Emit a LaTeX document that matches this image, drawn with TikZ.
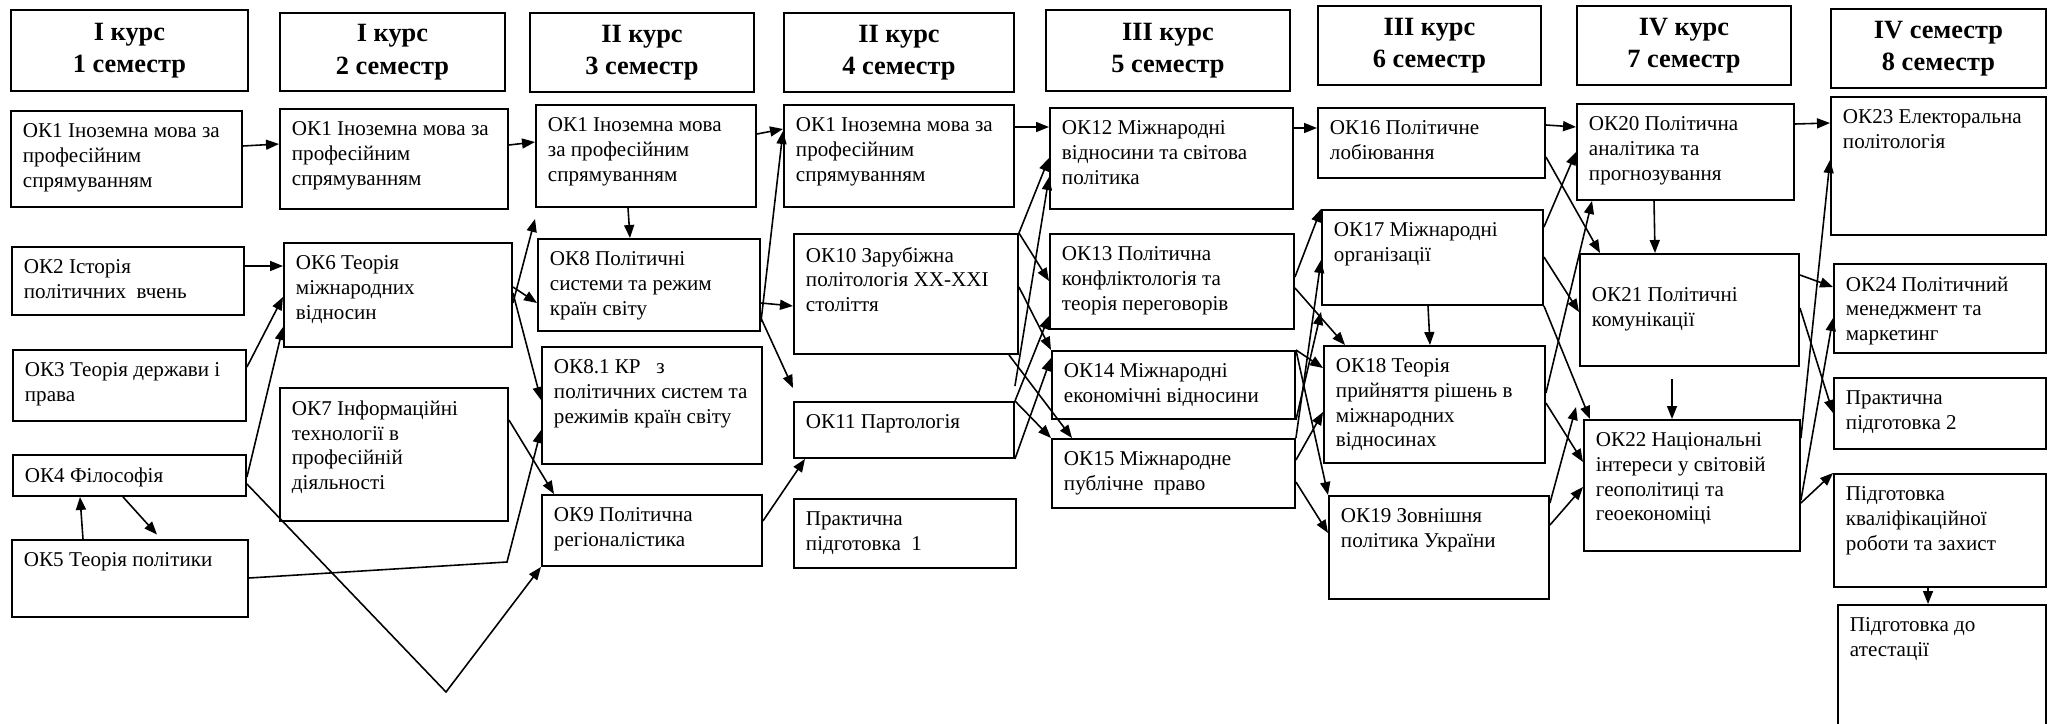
\documentclass[tikz,border=0pt]{standalone}
\usepackage{fontspec}
\setmainfont{Liberation Serif}
\usepackage{tikz}
\usetikzlibrary{arrows.meta}
\tikzstyle{arrow} = [line width=0.9pt,->,>={Triangle[length=0.26cm,width=0.2cm]}]
\newlength{\pxu}\setlength{\pxu}{0.02cm}
\newcommand{\okt}[3]{\parbox[t][\dimexpr#2\pxu-0.52cm\relax][t]{\dimexpr#1\pxu-0.48cm\relax}{\rightskip=-0.2cm plus 1fil #3}}
\newcommand{\hdt}[3]{\parbox[c][#2\pxu][c]{#1\pxu}{\centering #3}}

\begin{document}
\begin{tikzpicture}[x=0.02cm, y=-0.02cm,
  ok/.style={draw, line width=1.1pt, anchor=north west, inner xsep=0.24cm, inner ysep=0.26cm, font=\fontsize{12}{14}\selectfont},
  hd/.style={draw, line width=1.1pt, anchor=north west, inner sep=0pt, font=\fontsize{15}{18.5}\selectfont\bfseries}]
  \useasboundingbox (0,0) rectangle (2064,723);

  % Headers
  \node[hd] (h1) at (10,9) {\hdt{237}{81}{I курс\\1 семестр}};
  \node[hd] (h2) at (279,12) {\hdt{225}{78}{I курс\\2 семестр}};
  \node[hd] (h3) at (529,12) {\hdt{224}{79}{II курс\\3 семестр}};
  \node[hd] (h4) at (783,12) {\hdt{230}{79}{II курс\\4 семестр}};
  \node[hd] (h5) at (1045,9) {\hdt{244}{81}{III курс\\5 семестр}};
  \node[hd] (h6) at (1317,5) {\hdt{223}{79}{III курс\\6 семестр}};
  \node[hd] (h7) at (1576,5) {\hdt{214}{79}{IV курс\\7 семестр}};
  \node[hd] (h8) at (1830,8) {\hdt{215}{79}{IV семестр\\8 семестр}};

  % Semester 1
  \node[ok] (ok1a) at (10,110) {\okt{231}{96}{ОК1 Іноземна мова за\\професійним\\спрямуванням}};
  \node[ok] (ok2) at (11,246) {\okt{232}{68}{ОК2 Історія\\політичних~ вчень}};
  \node[ok] (ok3) at (12,349) {\okt{233}{71}{ОК3 Теорія держави і\\права}};
  \node[ok] (ok4) at (12,454) {\okt{233}{41}{ОК4 Філософія}};
  \node[ok] (ok5) at (11,539) {\okt{236}{77}{ОК5 Теорія політики}};

  % Semester 2
  \node[ok] (ok1b) at (279,108) {\okt{228}{100}{ОК1 Іноземна мова за\\професійним\\спрямуванням}};
  \node[ok] (ok6) at (283,242) {\okt{228}{104}{ОК6 Теорія\\міжнародних\\відносин}};
  \node[ok] (ok7) at (279,387) {\okt{228}{133}{ОК7 Інформаційні\\технології в\\професійній\\діяльності}};

  % Semester 3
  \node[ok] (ok1c) at (535,104) {\okt{220}{102}{ОК1 Іноземна мова\\за професійним\\спрямуванням}};
  \node[ok] (ok8) at (537,238) {\okt{222}{92}{ОК8 Політичні\\системи та режим\\країн світу}};
  \node[ok] (ok81) at (541,346) {\okt{220}{117}{ОК8.1 КР~~~з\\політичних систем та\\режимів країн світу}};
  \node[ok] (ok9) at (541,494) {\okt{220}{71}{ОК9 Політична\\регіоналістика}};

  % Semester 4
  \node[ok] (ok1d) at (783,104) {\okt{230}{102}{ОК1 Іноземна мова за\\професійним\\спрямуванням}};
  \node[ok] (ok10) at (793,233) {\okt{224}{120}{ОК10 Зарубіжна\\політологія XX-XXI\\століття}};
  \node[ok] (ok11) at (793,401) {\okt{220}{56}{ОК11 Партологія}};
  \node[ok] (pp1) at (793,498) {\okt{222}{69}{Практична\\підготовка~ 1}};

  % Semester 5
  \node[ok] (ok12) at (1049,107) {\okt{243}{101}{ОК12 Міжнародні\\відносини та світова\\політика}};
  \node[ok] (ok13) at (1049,233) {\okt{244}{95}{ОК13 Політична\\конфліктологія та\\теорія переговорів}};
  \node[ok] (ok14) at (1051,350) {\okt{243}{68}{ОК14 Міжнародні\\економічні відносини}};
  \node[ok] (ok15) at (1051,438) {\okt{243}{69}{ОК15 Міжнародне\\публічне~ право}};

  % Semester 6
  \node[ok] (ok16) at (1317,107) {\okt{227}{70}{ОК16 Політичне\\лобіювання}};
  \node[ok] (ok17) at (1321,209) {\okt{221}{95}{ОК17 Міжнародні\\організації}};
  \node[ok] (ok18) at (1323,345) {\okt{221}{117}{ОК18 Теорія\\прийняття рішень в\\міжнародних\\відносинах}};
  \node[ok] (ok19) at (1328,495) {\okt{220}{103}{ОК19 Зовнішня\\політика України}};

  % Semester 7
  \node[ok] (ok20) at (1576,103) {\okt{217}{96}{ОК20 Політична\\аналітика та\\прогнозування}};
  \node[ok] (ok21) at (1579,253) {\okt{219}{112}{\vspace*{0.42cm}ОК21 Політичні\\комунікації}};
  \node[ok] (ok22) at (1583,419) {\okt{216}{131}{ОК22 Національні\\інтереси у світовій\\геополітиці та\\геоекономіці}};

  % Semester 8
  \node[ok] (ok23) at (1830,96) {\okt{215}{138}{ОК23 Електоральна\\політологія}};
  \node[ok] (ok24) at (1833,263) {\okt{212}{89}{ОК24 Політичний\\менеджмент та\\маркетинг}};
  \node[ok] (pp2) at (1833,377) {\okt{212}{71}{Практична\\підготовка 2}};
  \node[ok] (pkr) at (1833,473) {\okt{212}{113}{Підготовка\\кваліфікаційної\\роботи та захист}};
  \node[ok] (pa) at (1837,604) {\okt{208}{160}{Підготовка до\\атестації}};

  \coordinate (vtx) at (446,692);
  \coordinate (bnd) at (507,562);

  % Arrows 1 -> 2
  \draw[arrow] (ok1a.east |- 0,146) -- (ok1b.west |- 0,144);
  \draw[arrow] (ok2.east |- 0,266) -- (ok6.west |- 0,266);
  \draw[arrow] (ok3.east |- 0,367) -- (ok6.west |- 0,297);
  \draw[arrow] (ok4.east |- 0,477) -- (ok6.west |- 0,327);
  \draw[arrow] (ok4.east |- 0,484) -- (vtx) -- (ok9.south west);
  \draw[arrow, shorten >=0.12cm] (ok4.south -| 123,0) -- (ok5.north -| 161,0);
  \draw[arrow] (ok5.north -| 83,0) -- (ok4.south -| 80,0);
  \draw[arrow] (ok5.east |- 0,578) -- (bnd) -- (ok81.west |- 0,430);

  % Arrows 2 -> 3
  \draw[arrow] (ok1b.east |- 0,145) -- (ok1c.west |- 0,142);
  \draw[arrow] (ok6.east |- 0,303) -- ([yshift=-0.22cm]ok1c.south west);
  \draw[arrow] (ok6.east |- 0,287) -- (ok8.west |- 0,303);
  \draw[arrow] (ok6.east |- 0,293) -- (ok81.west |- 0,400);
  \draw[arrow] (ok7.east |- 0,420) -- (ok9.north -| 554,0);

  % Arrows 3 -> 4
  \draw[arrow] (ok1c.south -| 628,0) -- (ok8.north -| 630,0);
  \draw[arrow] (ok1c.east |- 0,134) -- (ok1d.west |- 0,129);
  \draw[arrow] (ok8.east |- 0,322) -- (ok1d.west |- 0,131);
  \draw[arrow] (ok8.east |- 0,303) -- (ok10.west |- 0,306);
  \draw[arrow] (ok8.east |- 0,318) -- ([yshift=0.26cm]ok11.north west);
  \draw[arrow] (ok9.east |- 0,521) -- ([xshift=0.24cm]ok11.south west);

  % Arrows 4 -> 5
  \draw[arrow] (ok1d.east |- 0,127) -- (ok12.west |- 0,127);
  \draw[arrow] (ok10.north east) -- (ok12.west |- 0,158);
  \draw[arrow] (ok10.north east) -- (ok13.west |- 0,281);
  \draw[arrow] (ok10.east |- 0,287) -- (ok14.north west);
  \draw[arrow] ([xshift=-0.2cm]ok10.south east) -- (ok15.north -| 1072,0);
  \draw[arrow] ([yshift=0.3cm]ok11.north east) -- (ok12.west |- 0,177);
  \draw[arrow] (ok11.north east) -- (ok13.west |- 0,316);
  \draw[arrow] (ok11.south east) -- (ok14.west |- 0,358);
  \draw[arrow] (ok11.north east) -- (ok15.north west);

  % Arrows 5 -> 6
  \draw[arrow] (ok12.east |- 0,128) -- (ok16.west |- 0,128);
  \draw[arrow] (ok13.east |- 0,277) -- (ok17.north west);
  \draw[arrow] (ok13.east |- 0,288) -- (ok18.north -| 1345,0);
  \draw[arrow] (ok14.south east) -- ([yshift=-0.12cm]ok17.south west);
  \draw[arrow] (ok15.north east) -- (ok17.west |- 0,260);
  \draw[arrow] (ok14.north east) -- (ok18.west |- 0,368);
  \draw[arrow] (ok14.north east) -- (ok19.north west);
  \draw[arrow] (ok15.east |- 0,460) -- (ok18.west |- 0,412);
  \draw[arrow] (ok15.east |- 0,482) -- (ok19.west |- 0,533);
  \draw[arrow] (ok17.south -| 1428,0) -- (ok18.north -| 1430,0);

  % Arrows 6 -> 7
  \draw[arrow] (ok16.east |- 0,125) -- (ok20.west |- 0,127);
  \draw[arrow] (ok16.east |- 0,157) -- (ok21.north -| 1600,0);
  \draw[arrow] (ok17.east |- 0,227) -- (ok20.west |- 0,152);
  \draw[arrow] (ok17.east |- 0,257) -- (ok21.west |- 0,312);
  \draw[arrow] (ok17.south east) -- (ok22.north -| 1590,0);
  \draw[arrow] (ok18.east |- 0,393) -- (ok20.south -| 1592,0);
  \draw[arrow] (ok18.east |- 0,403) -- (ok22.west |- 0,462);
  \draw[arrow] (ok19.east |- 0,503) -- ([xshift=-0.14cm,yshift=0.24cm]ok22.north west);
  \draw[arrow] (ok19.east |- 0,525) -- (ok22.west |- 0,487);
  \draw[arrow] (ok20.south -| 1654,0) -- (ok21.north -| 1655,0);
  \draw[arrow, shorten <=0.24cm] (ok21.south -| 1672,0) -- (ok22.north -| 1672,0);

  % Arrows 7 -> 8
  \draw[arrow] (ok20.east |- 0,124) -- (ok23.west |- 0,123);
  \draw[arrow] (ok21.east |- 0,275) -- (ok24.west |- 0,287);
  \draw[arrow] (ok21.east |- 0,308) -- (pp2.west |- 0,413);
  \draw[arrow] (ok22.east |- 0,438) -- (ok23.west |- 0,160);
  \draw[arrow] (ok22.east |- 0,500) -- (ok24.west |- 0,318);
  \draw[arrow] (ok22.east |- 0,503) -- (pkr.north west);
  \draw[arrow] (pkr.south -| 1928,0) -- (pa.north -| 1928,0);
\end{tikzpicture}
\end{document}
